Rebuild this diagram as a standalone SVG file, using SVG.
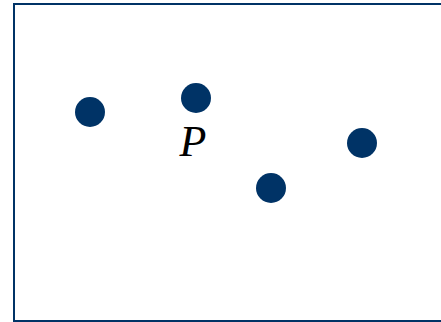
<svg xmlns="http://www.w3.org/2000/svg" width="441" height="322" viewBox="0 0 441 322">
<style>
.dot{fill:#003366}
.frame{fill:none;stroke:#003366;stroke-width:2}
.lbl{font-family:"Liberation Serif",serif;font-style:italic;font-size:44px;fill:#000}
</style>
<rect width="441" height="322" fill="#fff"/>
<rect class="frame" x="14" y="4" width="440" height="317"/>
<g id="n1"><circle class="dot" cx="90" cy="112" r="15"/></g>
<g id="nP"><circle class="dot" cx="196" cy="98" r="15"/><text class="lbl" x="193" y="156" text-anchor="middle">P</text></g>
<g id="n3"><circle class="dot" cx="271" cy="188" r="15"/></g>
<g id="n4"><circle class="dot" cx="362" cy="143" r="15"/></g>
<g id="connectors"></g>
</svg>
